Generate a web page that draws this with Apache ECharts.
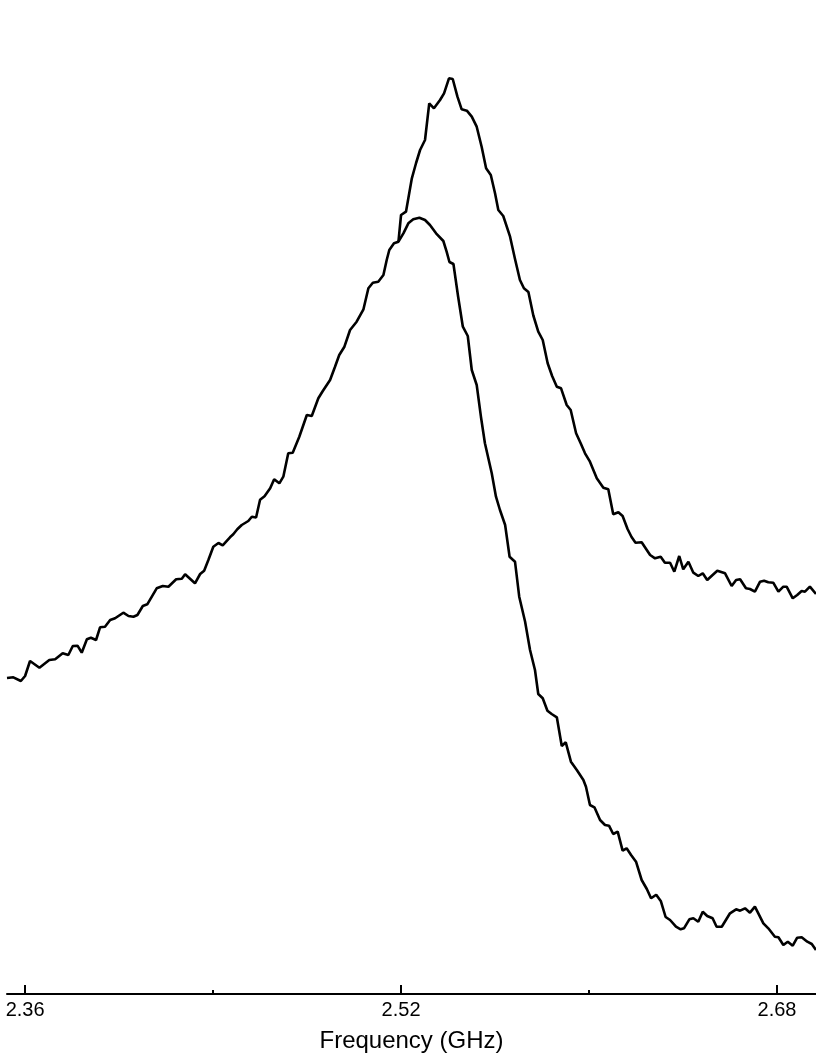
<!DOCTYPE html>
<html>
<head>
<meta charset="utf-8">
<style>
  html, body { margin: 0; padding: 0; background: #fff; }
  #chart { width: 816px; height: 1056px; }
</style>
<script src="https://cdn.jsdelivr.net/npm/echarts@6/dist/echarts.min.js"></script>
</head>
<body>
<div id="chart"></div>
<script>
// Frequency (GHz) and amplitude (arbitrary units)
var freq1 = [2.3523,2.3550,2.3582,2.3600,2.3621,2.3661,2.3703,2.3728,2.3760,2.3784,2.3803,2.3823,2.3841,2.3863,2.3880,2.3902,2.3919,2.3940,2.3962,2.3983,2.4018,2.4040,2.4061,2.4078,2.4101,2.4120,2.4160,2.4186,2.4210,2.4243,2.4267,2.4281,2.4323,2.4345,2.4362,2.4380,2.4401,2.4423,2.4441,2.4472,2.4486,2.4503,2.4522,2.4550,2.4565,2.4583,2.4600,2.4619,2.4643,2.4660,2.4682,2.4699,2.4720,2.4739,2.4767,2.4799,2.4820,2.4848,2.4867,2.4898,2.4919,2.4937,2.4959,2.4983,2.5011,2.5040,2.5061,2.5080,2.5103,2.5125,2.5139,2.5150,2.5170,2.5189,2.5210,2.5231,2.5252,2.5278,2.5302,2.5323,2.5349,2.5380,2.5394,2.5406,2.5423,2.5443,2.5463,2.5484,2.5501,2.5522,2.5540,2.5557,2.5586,2.5604,2.5621,2.5643,2.5662,2.5685,2.5703,2.5728,2.5749,2.5770,2.5784,2.5803,2.5823,2.5841,2.5863,2.5884,2.5901,2.5923,2.5948,2.5976,2.5987,2.6004,2.6023,2.6047,2.6068,2.6085,2.6103,2.6122,2.6143,2.6160,2.6179,2.6200,2.6224,2.6246,2.6264,2.6286,2.6306,2.6326,2.6345,2.6370,2.6390,2.6404,2.6427,2.6444,2.6465,2.6484,2.6503,2.6526,2.6543,2.6565,2.6600,2.6626,2.6643,2.6664,2.6685,2.6706,2.6742,2.6763,2.6791,2.6806,2.6827,2.6846,2.6867,2.6886,2.6905,2.6929,2.6948,2.6966];
var amp1 = [31.6,31.67,31.3,31.8,33.3,32.63,33.4,33.47,34.07,33.9,34.8,34.83,34.13,35.47,35.63,35.4,36.67,36.73,37.4,37.57,38.13,37.8,37.73,37.9,38.8,38.97,40.57,40.8,40.73,41.47,41.53,41.97,41.07,42.0,42.33,43.4,44.73,45.1,44.87,45.67,45.97,46.47,46.9,47.3,47.73,47.65,49.43,49.78,50.57,51.47,51.07,51.73,54.07,54.13,55.73,57.9,57.8,59.57,60.3,61.4,62.73,63.9,64.73,66.4,67.23,68.47,70.57,71.13,71.23,71.9,73.4,74.4,75.07,75.23,76.07,77.07,77.47,77.63,77.4,76.9,76.07,75.3,74.23,73.2,73.0,69.73,66.73,65.8,62.4,60.9,57.73,55.07,52.07,49.73,48.4,46.9,43.73,43.23,39.73,37.23,34.4,32.4,30.0,29.57,28.33,28.0,27.67,24.8,25.17,23.23,22.4,21.4,20.73,18.9,18.67,17.4,16.9,16.83,16.0,16.23,14.33,14.57,13.9,13.23,11.4,10.5,9.57,9.93,9.27,7.7,7.4,6.73,6.47,6.57,7.47,7.57,7.23,8.23,7.8,7.57,6.73,6.73,8.07,8.47,8.33,8.57,8.13,8.73,7.07,6.57,5.73,5.67,4.9,5.23,4.83,5.63,5.67,5.23,5.0,4.4];

var freq2 = [2.5189,2.5200,2.5221,2.5246,2.5264,2.5281,2.5302,2.5320,2.5340,2.5366,2.5383,2.5404,2.5420,2.5440,2.5458,2.5480,2.5501,2.5522,2.5543,2.5562,2.5582,2.5600,2.5614,2.5635,2.5664,2.5685,2.5706,2.5723,2.5742,2.5763,2.5784,2.5803,2.5824,2.5843,2.5863,2.5881,2.5905,2.5922,2.5945,2.5964,2.5983,2.6004,2.6033,2.6061,2.6082,2.6103,2.6125,2.6143,2.6164,2.6181,2.6198,2.6224,2.6243,2.6260,2.6281,2.6305,2.6323,2.6345,2.6363,2.6384,2.6401,2.6423,2.6444,2.6465,2.6484,2.6503,2.6526,2.6546,2.6579,2.6607,2.6626,2.6643,2.6668,2.6685,2.6706,2.6728,2.6745,2.6763,2.6784,2.6806,2.6827,2.6841,2.6867,2.6886,2.6905,2.6919,2.6940,2.6966];
var amp2 = [75.23,77.9,78.23,81.57,83.1,84.4,85.4,89.07,88.57,89.4,90.07,91.57,91.5,89.73,88.47,88.33,87.73,86.73,84.73,82.57,81.9,80.07,78.4,77.8,75.73,73.5,71.4,70.57,70.2,67.85,66.23,65.4,63.07,61.8,60.73,60.57,58.9,58.4,56.07,55.1,54.07,53.23,51.57,50.63,50.47,47.97,48.17,47.8,46.5,45.7,45.13,45.17,44.5,43.9,43.57,43.73,43.13,43.13,42.23,43.8,42.47,43.23,42.13,41.8,42.07,41.4,41.9,42.33,42.07,40.8,41.4,41.47,40.57,40.5,40.23,41.23,41.33,41.17,41.13,40.23,40.73,40.73,39.57,39.9,40.3,40.23,40.73,40.0];

var majorTicks = [2.36, 2.52, 2.68];
var minorTicks = [2.44, 2.60];
var xTitle = 'Frequency (GHz)';

function pairs(xs, ys) {
  var out = [];
  for (var i = 0; i < xs.length; i++) out.push([xs[i], ys[i]]);
  return out;
}

var chart = echarts.init(document.getElementById('chart'), null, { renderer: 'canvas' });
var FONT = '"Liberation Sans", Arial, sans-serif';
var X_MIN = 2.3523, X_MAX = 2.6966;

chart.setOption({
  animation: false,
  backgroundColor: '#ffffff',
  grid: { left: 7, right: 0, top: 14, bottom: 62, containLabel: false, outerBoundsMode: 'none' },
  xAxis: [
    {
      type: 'value', position: 'bottom', min: X_MIN, max: X_MAX,
      name: xTitle, nameLocation: 'middle', nameGap: 35,
      nameTextStyle: { fontFamily: FONT, fontSize: 24, color: '#000' },
      axisLine: { show: true, lineStyle: { color: '#000', width: 2 } },
      axisTick: { show: true, inside: true, length: 9, customValues: majorTicks,
                  lineStyle: { color: '#000', width: 2 } },
      axisLabel: { show: true, customValues: majorTicks, margin: 6,
                   fontFamily: FONT, fontSize: 20, color: '#000',
                   formatter: function (v) { return v.toFixed(2); } },
      splitLine: { show: false }
    },
    {
      type: 'value', position: 'bottom', min: X_MIN, max: X_MAX,
      axisLine: { show: false },
      axisTick: { show: true, inside: true, length: 4, customValues: minorTicks,
                  lineStyle: { color: '#000', width: 2 } },
      axisLabel: { show: false },
      splitLine: { show: false }
    }
  ],
  yAxis: { type: 'value', min: 0, max: 98, show: false },
  series: [
    { type: 'line', xAxisIndex: 0, data: pairs(freq1, amp1), showSymbol: false,
      lineStyle: { color: '#000', width: 2.6 }, clip: true },
    { type: 'line', xAxisIndex: 0, data: pairs(freq2, amp2), showSymbol: false,
      lineStyle: { color: '#000', width: 2.6 }, clip: true }
  ]
});
</script>
</body>
</html>
